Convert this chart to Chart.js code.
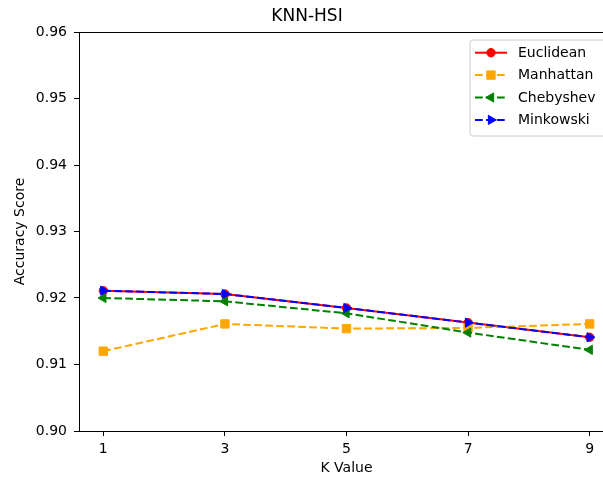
<!DOCTYPE html>
<html><head><meta charset="utf-8">
<script src="https://cdn.jsdelivr.net/npm/chart.js@4"></script>
<style>
html,body{margin:0;padding:0;background:#fff;overflow:hidden}
#wrap{width:603px;height:479px;overflow:hidden;position:relative;background:#fff}
canvas{display:block}
</style></head><body>
<div id="wrap"><canvas id="c" width="640" height="479" style="width:640px;height:479px"></canvas></div>
<script>
const kValues = [1, 3, 5, 7, 9];
const euclidean = [0.9211, 0.9206, 0.9185, 0.9163, 0.9141];
const manhattan = [0.9120, 0.9161, 0.9154, 0.9155, 0.9161];
const chebyshev = [0.9200, 0.9195, 0.9177, 0.9148, 0.9122];
const minkowski = [0.9211, 0.9206, 0.9185, 0.9163, 0.9141];
const yTicks = [0.90, 0.91, 0.92, 0.93, 0.94, 0.95, 0.96];
const seriesNames = ['Euclidean', 'Manhattan', 'Chebyshev', 'Minkowski'];

const FONT = 'DejaVu Sans';
const DASH = [7.7, 3.3];

function pts(vals){ return kValues.map((k,i)=>({x:k, y:vals[i]})); }

const styles = [
  {color:'#ff0000', pointStyle:'circle', radius:4.2, rotation:0, dash:[]},
  {color:'#ffa500', pointStyle:'rect', radius:5.9, rotation:0, dash:DASH},
  {color:'#008000', pointStyle:'triangle', radius:5.3, rotation:-90, dash:DASH},
  {color:'#0000ff', pointStyle:'triangle', radius:5.3, rotation:90, dash:DASH}
];
const allVals = [euclidean, manhattan, chebyshev, minkowski];

const datasets = seriesNames.map((name,i)=>({
  label:name,
  data:pts(allVals[i]),
  borderColor:styles[i].color,
  backgroundColor:styles[i].color,
  borderWidth:2,
  borderDash:styles[i].dash,
  pointStyle:styles[i].pointStyle,
  pointRadius:styles[i].radius,
  pointHoverRadius:styles[i].radius,
  pointRotation:styles[i].rotation,
  pointBorderWidth:1,
  pointBorderColor:styles[i].color,
  pointBackgroundColor:styles[i].color,
  tension:0,
  fill:false,
  order:4-i
}));

function drawMarker(ctx, st, x, y){
  ctx.save();
  ctx.fillStyle = st.color; ctx.strokeStyle = st.color; ctx.lineWidth = 1; ctx.setLineDash([]);
  ctx.beginPath();
  if (st.pointStyle==='circle'){
    ctx.arc(x,y,st.radius,0,Math.PI*2);
  } else if (st.pointStyle==='rect'){
    const s = st.radius*Math.SQRT1_2;
    ctx.rect(x-s,y-s,2*s,2*s);
  } else {
    let rad = st.rotation*Math.PI/180;
    const r = st.radius;
    ctx.moveTo(x+Math.sin(rad)*r, y-Math.cos(rad)*r);
    rad += 2*Math.PI/3;
    ctx.lineTo(x+Math.sin(rad)*r, y-Math.cos(rad)*r);
    rad += 2*Math.PI/3;
    ctx.lineTo(x+Math.sin(rad)*r, y-Math.cos(rad)*r);
    ctx.closePath();
  }
  ctx.fill(); ctx.stroke();
  ctx.restore();
}

const framePlugin = {
  id:'frame',
  afterDatasetsDraw(chart){
    const {ctx, chartArea:a} = chart;
    ctx.save();
    ctx.strokeStyle = '#000'; ctx.lineWidth = 1;
    ctx.strokeRect(Math.round(a.left)+0.5, Math.round(a.top)+0.5, Math.round(a.right-a.left), Math.round(a.bottom-a.top));
    ctx.restore();
  }
};

const legendPlugin = {
  id:'mplLegend',
  afterDraw(chart){
    const {ctx, chartArea:a} = chart;
    const right = a.right - 7, top = a.top + 8;
    const left = 470, w = right-left, h = 96;
    ctx.save();
    ctx.beginPath();
    const r = 3;
    ctx.moveTo(left+r, top); ctx.lineTo(left+w-r, top); ctx.quadraticCurveTo(left+w, top, left+w, top+r);
    ctx.lineTo(left+w, top+h-r); ctx.quadraticCurveTo(left+w, top+h, left+w-r, top+h);
    ctx.lineTo(left+r, top+h); ctx.quadraticCurveTo(left, top+h, left, top+h-r);
    ctx.lineTo(left, top+r); ctx.quadraticCurveTo(left, top, left+r, top);
    ctx.closePath();
    ctx.fillStyle = 'rgba(255,255,255,0.8)'; ctx.fill();
    ctx.strokeStyle = '#cccccc'; ctx.lineWidth = 1; ctx.stroke();
    chart.data.datasets.forEach((ds,i)=>{
      const st = styles[i];
      const y = top + 12.7 + i*22.4;
      ctx.beginPath();
      ctx.strokeStyle = st.color; ctx.lineWidth = 2; ctx.setLineDash(st.dash);
      ctx.moveTo(left+5, y); ctx.lineTo(left+37, y); ctx.stroke();
      ctx.setLineDash([]);
      drawMarker(ctx, st, left+21, y);
      ctx.fillStyle = '#000'; ctx.font = '14px "'+FONT+'"';
      ctx.textBaseline = 'middle'; ctx.textAlign = 'left';
      ctx.fillText(ds.label, left+48, y+0.5);
    });
    ctx.restore();
  }
};

new Chart(document.getElementById('c'), {
  type:'line',
  data:{datasets},
  options:{
    responsive:false,
    animation:false,
    devicePixelRatio:1,
    layout:{padding:{left:0, right:26, top:0, bottom:0}},
    plugins:{
      legend:{display:false},
      tooltip:{enabled:false},
      title:{display:true, text:'KNN-HSI', color:'#000',
        font:{family:FONT, size:17, weight:'normal', lineHeight:1.2},
        padding:{top:6, bottom:5.6}}
    },
    scales:{
      x:{
        type:'linear', min:0.6, max:9.4,
        afterBuildTicks(s){ s.ticks = kValues.map(v=>({value:v})); },
        afterFit(s){ s.height = 48; },
        ticks:{color:'#000', font:{family:FONT, size:14}, padding:5, autoSkip:false, maxRotation:0,
          callback:(v)=>String(v)},
        grid:{display:true, drawOnChartArea:false, drawTicks:true, tickLength:5, color:'#000', tickWidth:1},
        border:{display:true, color:'#000', width:1},
        title:{display:true, text:'K Value', color:'#000', font:{family:FONT, size:14, lineHeight:1.2}, padding:{top:0, bottom:2}}
      },
      y:{
        type:'linear', min:0.90, max:0.96,
        afterBuildTicks(s){ s.ticks = yTicks.map(v=>({value:v})); },
        afterFit(s){ s.width = 79; },
        ticks:{color:'#000', font:{family:FONT, size:14}, padding:7, autoSkip:false,
          callback:(v)=>Number(v).toFixed(2)},
        grid:{display:true, drawOnChartArea:false, drawTicks:true, tickLength:5, color:'#000', tickWidth:1},
        border:{display:true, color:'#000', width:1},
        title:{display:true, text:'Accuracy Score', color:'#000', font:{family:FONT, size:14, lineHeight:1.2}, padding:{top:12, bottom:4}}
      }
    }
  },
  plugins:[framePlugin, legendPlugin]
});
</script>
</body></html>
